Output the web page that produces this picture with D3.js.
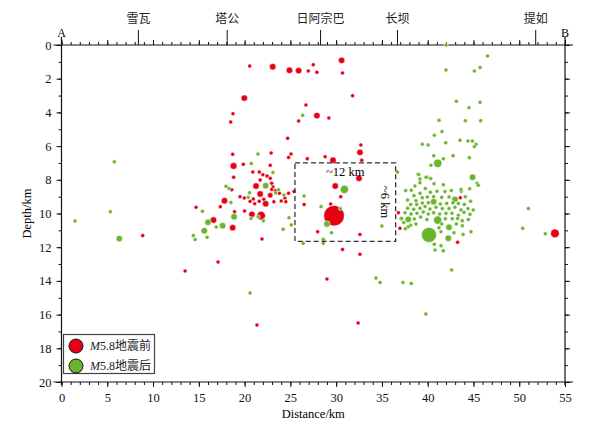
<!DOCTYPE html>
<html><head><meta charset="utf-8">
<script src="https://cdn.jsdelivr.net/npm/d3@7/dist/d3.min.js"></script>
<style>body{margin:0;background:#fff}svg{display:block}</style>
</head><body>
<script>
// ---- data ----
const xTicks = [0,5,10,15,20,25,30,35,40,45,50,55];
const yTicks = [0,2,4,6,8,10,12,14,16,18,20];
const towns = ["雪瓦","塔公","日阿宗巴","长坝","提如"];
const townKm = [8.4,18.1,28.3,36.7,51.8];
const seriesNames = ["M5.8地震前","M5.8地震后"];

const redX = [8.87,14.7,13.5,18.7,22.9,25.07,24.8,18.8,19.86,22.8,18.8,20.9,21.6,22.0,22.45,22.8,21.7,21.25,22.96,18.6,23.1,22.96,23.36,21.7,22.8,23.8,24.8,25.4,19.5,19.97,20.95,20.6,21.1,21.6,22.1,22.3,23.2,24.0,24.4,24.5,17.8,17.35,20.0,18.9,20.8,21.8,16.6,18.7,21.9,
20.56,23.07,24.9,25.9,26.96,27.5,27.9,30.6,30.7,19.97,31.8,26.7,27.9,29.2,18.73,18.48,25.9,24.7,32.7,32.6,32.8,29.66,28.8,26.85,32.5,29.9,30.5,29.4,29.77,27.98,32.6,26.5,30.7,32.6,36.8,37.1,36.97,43.56,43.27,53.9,21.35,32.4,29.0,17.1];
const redDepth = [11.31,9.63,13.41,6.49,6.41,6.47,6.67,7.18,7.08,7.14,7.85,7.54,7.54,7.70,7.77,7.91,8.01,8.37,8.21,8.59,8.43,8.57,8.65,8.84,8.92,8.80,8.80,8.70,9.0,9.08,9.14,9.28,9.42,9.28,9.16,9.42,9.30,9.26,9.08,9.30,9.24,9.6,9.85,9.89,10.05,10.13,10.39,10.84,11.51,
1.25,1.29,1.50,1.52,1.54,1.17,1.62,0.91,1.66,3.15,3.01,3.56,4.19,4.33,4.08,4.57,4.51,5.54,5.93,6.37,6.84,6.84,6.63,6.75,7.91,8.37,9.0,9.44,10.13,11.08,11.24,9.46,12.13,12.42,9.95,10.29,10.88,9.06,11.71,11.18,16.62,16.5,13.89,12.88];
const redMag = [1,1,1,1,1,1,1,2.1,1,1,1,1,1,1,1,1,1,2,1,1,1,1,1,2,1.6,1,1,1,1,1,1,1,1,1,1,2,1,1,1,1,2,1,1,1,2,2.6,2,2,1,
1,2,2,2,1,1,1,2,1,2,1,1,2,1,1,1,1,1,1,2,1,2,1,1,2,2,1,1,5.8,1,1,1,1,1,1,1,1,1,1,2.6,1,1,1,1];

const greenX = [5.77,5.33,1.47,6.31,14.4,14.6,21.46,20.73,23.1,22.3,17.97,18.3,23.7,20.55,23.4,24.3,20.4,18.5,15.4,20.7,21.5,22.05,16.0,18.85,16.9,17.6,15.6,15.9,24.2,24.85,25.1,
26.35,30.9,28.35,30.45,29.0,29.5,26.5,26.4,28.6,28.6,36.7,35.0,
41.1,40.66,42.8,44.9,38.94,39.95,45.4,
39.16,40.69,41.71,38.61,37.59,38.21,
39.74,40.29,41.02,41.89,42.58,43.67,38.50,39.16,
39.41,39.96,40.65,41.53,42.33,42.98,44.11,37.81,38.72,
38.14,38.79,39.41,40.07,40.65,41.38,42.07,42.76,43.35,44.00,44.69,
37.81,38.47,39.16,39.71,40.25,40.91,41.60,42.33,42.98,43.64,44.40,44.98,
37.52,38.18,38.83,39.52,40.07,40.65,41.31,42.00,42.65,43.35,43.97,44.62,
37.16,37.88,38.54,39.23,39.92,41.09,41.93,42.69,43.27,43.78,44.44,
37.38,38.14,38.72,41.53,42.33,43.13,43.78,37.88,37.56,
41.23,41.45,42.87,43.86,44.73,40.72,41.45,41.71,40.8,
40.14,42.25,
42.0,45.1,45.72,46.55,42.0,43.13,45.72,44.51,41.24,44.11,45.79,
41.56,40.73,41.97,43.53,44.40,44.88,45.28,45.1,39.42,40.04,
42.77,44.55,41.71,40.36,39.02,39.16,39.82,40.33,45.53,44.59,43.64,
51.0,50.38,52.85,42.62,
20.6,34.35,34.8,37.3,38.2,39.8];
const greenDepth = [6.93,9.89,10.45,11.49,11.31,11.55,6.47,7.04,7.56,8.35,8.39,8.51,8.59,8.77,8.78,8.90,9.04,9.34,9.87,10.3,10.19,10.43,10.52,10.19,10.8,10.72,11.02,11.41,10.94,10.25,10.68,
4.17,8.57,9.59,9.71,10.62,11.14,8.96,11.77,11.53,11.77,7.54,10.74,
7.02,6.57,6.57,7.85,7.67,7.85,8.21,
8.17,8.23,8.29,8.37,8.64,8.62,
8.51,8.74,8.68,8.70,8.64,8.68,8.94,8.80,
9.06,9.02,9.00,9.04,9.02,9.16,9.00,9.20,9.24,
9.46,9.46,9.38,9.36,9.30,9.44,9.40,9.36,9.40,9.46,9.28,
9.69,9.75,9.69,9.59,9.73,9.63,9.71,9.71,9.63,9.79,9.71,9.79,
9.95,10.03,9.99,9.91,10.03,9.95,10.03,9.99,9.99,10.11,9.93,10.05,
10.29,10.35,10.33,10.21,10.35,10.39,10.31,10.31,10.29,10.43,10.35,
10.54,10.70,10.62,10.62,10.82,10.62,10.72,10.78,10.90,
10.84,11.08,11.14,11.24,11.08,11.83,11.91,12.21,12.17,
11.27,11.47,
1.48,1.54,1.33,0.65,0.0,3.34,3.40,3.72,4.47,4.49,4.49,
5.14,5.36,5.80,5.66,5.70,5.70,5.89,6.03,5.89,5.93,
6.57,6.69,6.75,7.14,7.68,7.95,7.85,7.93,8.33,8.53,8.57,
9.71,10.88,11.20,13.35,
14.72,13.83,14.1,14.1,14.15,15.96];
const greenMag = [1,1,1,2,1,1,1,1,1,2,1,1,1,1,1,1,1,1,1,1,1,1,2,2,1,2,2,1,1,1,1,
1,2.5,1,1,2,1,1,1,1,1,1,1,
2.5,1,1,2,1,1,1,
1,1,1,1,1,1,
1,1,1,1,1,1,1,1,
1,1,1,1,1,2,1,1,1,
1,1,1,1,2,1,1,1,1,1,1,
1,1,1,1,1,1,1,1,1,1,1,1,
1,1,1,1,1,1,1,1,1,1,1,1,
1,2,1,1,1,2.5,1,1,1,1,1,
1,1,1,1,2,1,1,1,1,
1,1,1,1,1,1,1,1,1,
4.3,2,
1,1,1,1,1,1,1,1,1,1,1,
1,1,1,1,1,1,1,1,1,1,
1,1,1,1,1,1,1,1,1,1,1,
1,1,1,1,
1,1,1,1,1,1];

const studyBox = {x0:25.5, x1:36.5, d0:7.0, d1:11.65};

// ---- drawing ----
const W = 612, H = 421;
const svg = d3.select("body").append("svg").attr("width",W).attr("height",H);
const x = d3.scaleLinear().domain([0,55]).range([61.5,565]);
const y = d3.scaleLinear().domain([0,20]).range([45,382]);
const r = d3.scaleLinear().domain([1,2,5.8]).range([2,3.2,10.3]);
const RED = "#e60014", GREEN = "#6ab42e";
const serif = "'Liberation Serif','Times New Roman',serif";
const cjk = "'Noto Sans CJK SC','Noto Sans',sans-serif";

function styleAxis(g){
  g.select(".domain").remove();
  g.selectAll(".tick line").attr("stroke","#111").attr("stroke-width",1);
  g.selectAll("text").attr("font-family",serif).attr("font-size",12.5).attr("fill","#111");
}
const minorX = d3.range(0,56,1), minorY = d3.range(0,21,1);
// bottom
svg.append("g").attr("transform",`translate(0,${y(20)})`)
  .call(d3.axisBottom(x).tickValues(minorX).tickSize(3).tickFormat("")).call(styleAxis);
svg.append("g").attr("transform",`translate(0,${y(20)})`)
  .call(d3.axisBottom(x).tickValues(xTicks).tickSize(5).tickPadding(6).tickFormat(d3.format("d"))).call(styleAxis);
// top
svg.append("g").attr("transform",`translate(0,${y(0)})`)
  .call(d3.axisTop(x).tickValues(minorX).tickSize(3).tickFormat("")).call(styleAxis);
svg.append("g").attr("transform",`translate(0,${y(0)})`)
  .call(d3.axisTop(x).tickValues(xTicks).tickSize(5).tickFormat("")).call(styleAxis);
// left
svg.append("g").attr("transform",`translate(${x(0)},0)`)
  .call(d3.axisLeft(y).tickValues(minorY).tickSize(3).tickFormat("")).call(styleAxis);
svg.append("g").attr("transform",`translate(${x(0)},0)`)
  .call(d3.axisLeft(y).tickValues(yTicks).tickSize(5).tickPadding(5).tickFormat(d3.format("d"))).call(styleAxis);
// right
svg.append("g").attr("transform",`translate(${x(55)},0)`)
  .call(d3.axisRight(y).tickValues(minorY).tickSize(3).tickFormat("")).call(styleAxis);
svg.append("g").attr("transform",`translate(${x(55)},0)`)
  .call(d3.axisRight(y).tickValues(yTicks).tickSize(5).tickFormat("")).call(styleAxis);

// frame lines (slightly overshooting, as in the original)
const fr = svg.append("g").attr("stroke","#111").attr("stroke-width",1.2);
fr.append("line").attr("x1",x(0)-8).attr("x2",x(55)+8).attr("y1",y(0)).attr("y2",y(0));
fr.append("line").attr("x1",x(0)-8).attr("x2",x(55)+8).attr("y1",y(20)).attr("y2",y(20));
fr.append("line").attr("x1",x(0)).attr("x2",x(0)).attr("y1",y(0)-8).attr("y2",y(20)+3);
fr.append("line").attr("x1",x(55)).attr("x2",x(55)).attr("y1",y(0)-8).attr("y2",y(20)+3);

// A / B
svg.append("text").attr("x",x(0)).attr("y",37).attr("text-anchor","middle")
  .attr("font-family",serif).attr("font-size",12).text("A");
svg.append("text").attr("x",x(55)).attr("y",37).attr("text-anchor","middle")
  .attr("font-family",serif).attr("font-size",12).text("B");

// towns
const tg = svg.append("g");
towns.forEach((t,i)=>{
  tg.append("line").attr("x1",x(townKm[i])).attr("x2",x(townKm[i]))
    .attr("y1",y(0)).attr("y2",y(0)-15).attr("stroke","#111").attr("stroke-width",1);
  tg.append("text").attr("x",x(townKm[i])).attr("y",23).attr("text-anchor","middle")
    .attr("font-family",cjk).attr("font-size",12).attr("fill","#222").text(t);
});

// axis titles
svg.append("text").attr("x",(x(0)+x(55))/2).attr("y",418).attr("text-anchor","middle")
  .attr("font-family",serif).attr("font-size",12.5).text("Distance/km");
svg.append("text").attr("transform",`translate(31,${(y(0)+y(20))/2}) rotate(-90)`)
  .attr("text-anchor","middle").attr("font-family",serif).attr("font-size",12.5).text("Depth/km");

// points
const red = redX.map((v,i)=>({x:v,d:redDepth[i],m:redMag[i]}));
const green = greenX.map((v,i)=>({x:v,d:greenDepth[i],m:greenMag[i]}));
const pts = svg.append("g");
pts.selectAll("circle.r").data(red).join("circle").attr("class","r")
  .attr("cx",d=>x(d.x)).attr("cy",d=>y(d.d)).attr("r",d=>r(d.m))
  .attr("fill",RED).attr("stroke","#fff").attr("stroke-width",0.5);
pts.selectAll("circle.g").data(green).join("circle").attr("class","g")
  .attr("cx",d=>x(d.x)).attr("cy",d=>y(d.d)).attr("r",d=>r(d.m))
  .attr("fill",GREEN).attr("stroke","#fff").attr("stroke-width",0.5);

// dashed box
svg.append("rect").attr("x",x(studyBox.x0)).attr("y",y(studyBox.d0))
  .attr("width",x(studyBox.x1)-x(studyBox.x0)).attr("height",y(studyBox.d1)-y(studyBox.d0))
  .attr("fill","none").attr("stroke","#333").attr("stroke-width",1.3).attr("stroke-dasharray","5,3");
svg.append("text").attr("x",x((studyBox.x0+studyBox.x1)/2)).attr("y",y(studyBox.d0)+13)
  .attr("text-anchor","middle").attr("font-family",serif).attr("font-size",12.5).text("~12 km");
svg.append("text").attr("transform",`translate(${x(studyBox.x1)-15},${y((studyBox.d0+studyBox.d1)/2)}) rotate(90)`)
  .attr("text-anchor","middle").attr("font-family",serif).attr("font-size",12.5).text("~6 km");

// legend
const lg = svg.append("g");
lg.append("rect").attr("x",63.5).attr("y",334.5).attr("width",91).attr("height",39)
  .attr("fill","#fff").attr("stroke","#444").attr("stroke-width",1.2);
[RED,GREEN].forEach((c,i)=>{
  const cy = 346 + i*20;
  lg.append("circle").attr("cx",76).attr("cy",cy).attr("r",7).attr("fill",c).attr("stroke","#111").attr("stroke-width",1);
  const t = lg.append("text").attr("x",90).attr("y",cy+4).attr("font-size",12).attr("fill","#222");
  t.append("tspan").attr("font-family",serif).attr("font-style","italic").text(seriesNames[i].slice(0,1));
  t.append("tspan").attr("font-family",serif).text(seriesNames[i].slice(1,4));
  t.append("tspan").attr("font-family",cjk).text(seriesNames[i].slice(4));
});
</script>
</body></html>
